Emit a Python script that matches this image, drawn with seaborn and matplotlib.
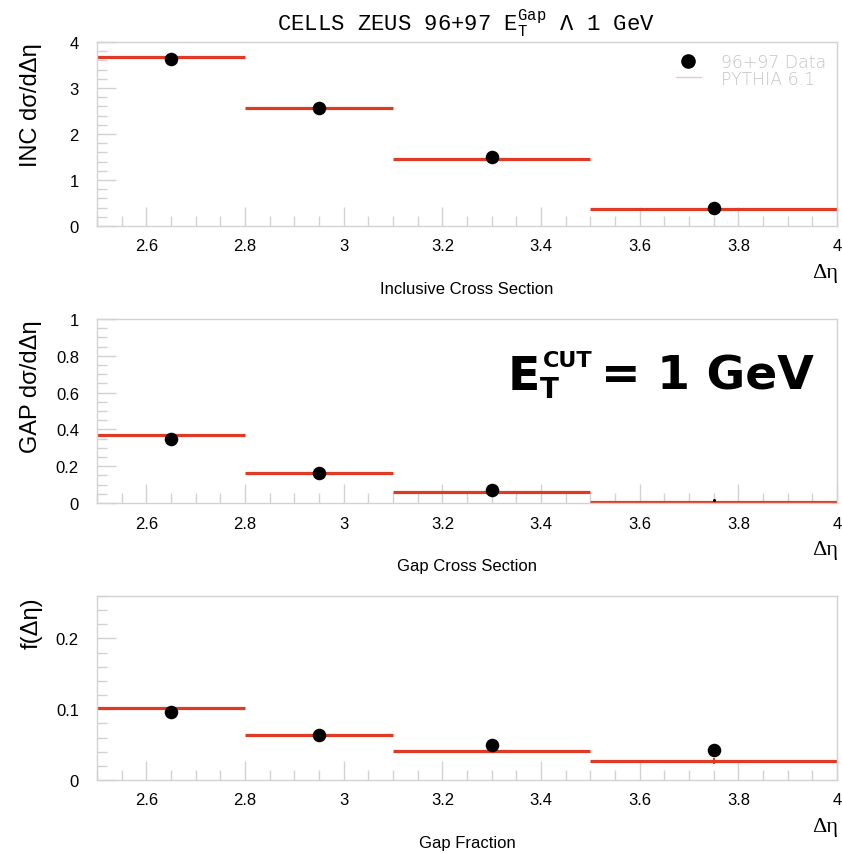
import numpy as np
import matplotlib
matplotlib.use("Agg")
import matplotlib.pyplot as plt
from matplotlib.lines import Line2D
from matplotlib.ticker import MultipleLocator, FixedLocator, FixedFormatter
import pandas as pd
import seaborn as sns

# Rapidity-gap bins in delta-eta
bin_lo = [2.5, 2.8, 3.1, 3.5]
bin_hi = [2.8, 3.1, 3.5, 4.0]
bin_mid = [2.65, 2.95, 3.3, 3.75]

# Inclusive cross section dsigma/d(delta eta)
inc_data = [3.63, 2.56, 1.49, 0.39]
inc_pythia = [3.67, 2.56, 1.46, 0.37]

# Gap cross section
gap_data = [0.35, 0.165, 0.07, 0.015]
gap_pythia = [0.372, 0.165, 0.058, 0.008]

# Gap fraction
frac_data = [0.096, 0.064, 0.049, 0.042]
frac_pythia = [0.101, 0.064, 0.041, 0.027]
frac_pythia_err = [0.0, 0.0, 0.0, 0.004]

x_ticks = [2.6, 2.8, 3.0, 3.2, 3.4, 3.6, 3.8, 4.0]
x_tick_labels = ["2.6", "2.8", "3", "3.2", "3.4", "3.6", "3.8", "4"]

inc_yticks = [0, 1, 2, 3, 4]
inc_ylabels = ["0", "1", "2", "3", "4"]
gap_yticks = [0, 0.2, 0.4, 0.6, 0.8, 1.0]
gap_ylabels = ["0", "0.2", "0.4", "0.6", "0.8", "1"]
frac_yticks = [0, 0.1, 0.2]
frac_ylabels = ["0", "0.1", "0.2"]

legend_labels = ["96+97 Data", "PYTHIA 6.1"]

sns.set_style("white")
plt.rcParams["font.family"] = ["Liberation Sans", "DejaVu Sans"]
plt.rcParams["text.color"] = "black"
plt.rcParams["axes.labelcolor"] = "black"
plt.rcParams["mathtext.fontset"] = "custom"
plt.rcParams["mathtext.rm"] = "Liberation Mono"
plt.rcParams["mathtext.it"] = "Liberation Mono"

RED = "#e03a24"
FRAME = "#d2d2d2"

fig = plt.figure(figsize=(8.42, 8.54), dpi=100)

panels = [
    dict(bottom=0.7342, data=inc_data, pythia=inc_pythia, perr=None,
         ylim=(0, 4), yticks=inc_yticks, ylabels=inc_ylabels, yminor=0.2,
         ylabel="INC dσ/dΔη", caption="Inclusive Cross Section"),
    dict(bottom=0.4098, data=gap_data, pythia=gap_pythia, perr=None,
         ylim=(0, 1), yticks=gap_yticks, ylabels=gap_ylabels, yminor=0.05,
         ylabel="GAP dσ/dΔη", caption="Gap Cross Section"),
    dict(bottom=0.0855, data=frac_data, pythia=frac_pythia, perr=frac_pythia_err,
         ylim=(0, 0.26), yticks=frac_yticks, ylabels=frac_ylabels, yminor=0.02,
         ylabel="f(Δη)", caption="Gap Fraction"),
]

axes = []
for p in panels:
    ax = fig.add_axes([0.1152, p["bottom"], 0.879, 0.2155])
    axes.append(ax)

    # PYTHIA prediction as horizontal bin segments
    ax.hlines(p["pythia"], bin_lo, bin_hi, colors=RED, linewidth=2.3, zorder=2)
    if p["perr"] is not None:
        for xm, v, e in zip(bin_mid, p["pythia"], p["perr"]):
            if e > 0:
                ax.vlines(xm, v - e, v + e, colors=RED, linewidth=1.5, zorder=2)

    # data points; values too close to zero show only as a tiny dot
    df = pd.DataFrame({"x": bin_mid, "y": p["data"]})
    small = df["y"] < 0.02 * p["ylim"][1]
    sns.scatterplot(data=df[~small], x="x", y="y", ax=ax, color="black",
                    s=95, edgecolor="black", linewidth=0, zorder=3, legend=False)
    if small.any():
        sns.scatterplot(data=df[small], x="x", y="y", ax=ax, color="black",
                        s=5, linewidth=0, zorder=3, legend=False)

    ax.set_xlim(2.5, 4.0)
    ax.set_ylim(*p["ylim"])
    ax.xaxis.set_major_locator(FixedLocator(x_ticks))
    ax.xaxis.set_major_formatter(FixedFormatter(x_tick_labels))
    ax.xaxis.set_minor_locator(MultipleLocator(0.05))
    ax.yaxis.set_major_locator(FixedLocator(p["yticks"]))
    ax.yaxis.set_major_formatter(FixedFormatter(p["ylabels"]))
    ax.yaxis.set_minor_locator(MultipleLocator(p["yminor"]))

    ax.tick_params(axis="both", which="both", direction="in", color=FRAME,
                   width=1.0, labelsize=12, labelcolor="black",
                   bottom=True, left=True, top=False, right=False)
    ax.tick_params(axis="both", which="major", length=14)
    ax.tick_params(axis="both", which="minor", length=7)
    ax.tick_params(axis="x", which="major", pad=9)
    ax.tick_params(axis="y", which="major", pad=13)
    for s in ax.spines.values():
        s.set_color(FRAME)
        s.set_linewidth(1.0)

    ax.set_xlabel("")
    ax.set_ylabel(p["ylabel"], loc="top", fontsize=17, color="black")
    ax.yaxis.set_label_coords(-0.074, 1.0)

    ax.text(1.002, -0.255, "Δη", transform=ax.transAxes, ha="right", va="center",
            fontsize=16, family="Liberation Serif", color="black")
    ax.text(0.5, -0.34, p["caption"], transform=ax.transAxes, ha="center",
            va="center", fontsize=12, color="black")

# legend in the top panel
handles = [
    Line2D([], [], marker="o", color="black", linestyle="none", markersize=9.5),
    Line2D([], [], color="#ecc8c8", linewidth=1.0),
]
leg = axes[0].legend(handles, legend_labels, loc="upper right",
                     bbox_to_anchor=(1.0, 0.995), frameon=False,
                     prop=dict(family="DejaVu Sans", size=12.5, weight="light"),
                     labelcolor="#c4c4c4", handlelength=1.4, handletextpad=1.2,
                     labelspacing=-0.1, borderaxespad=0.2)

# title
fig.text(466 / 842, 1 - 32 / 854,
         r"CELLS ZEUS 96+97 $\mathrm{E}_{\mathrm{T}}^{\mathrm{Gap}}$ Λ 1 GeV",
         ha="center", va="baseline", fontsize=16, family="Liberation Mono",
         color="black")

# E_T^CUT annotation
big = dict(family="DejaVu Sans", weight="bold", va="baseline", color="black")
fig.text(508 / 842, 1 - 390 / 854, "E", fontsize=34, **big)
fig.text(540 / 842, 1 - 398 / 854, "T", fontsize=20, **big)
fig.text(543 / 842, 1 - 367 / 854, "CUT", fontsize=16, **big)
fig.text(601 / 842, 1 - 390 / 854, "= 1 GeV", fontsize=34, **big)

fig.savefig("out.png", dpi=100, facecolor="white")
